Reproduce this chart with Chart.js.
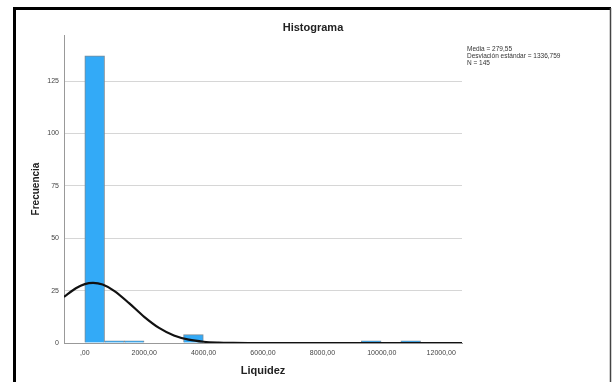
<!DOCTYPE html>
<html>
<head>
<meta charset="utf-8">
<script src="https://cdn.jsdelivr.net/npm/chart.js@4"></script>
<style>
  html, body { margin: 0; padding: 0; background: #fff; }
  #wrap { position: relative; width: 612px; height: 382px; }
</style>
</head>
<body>
<div id="wrap"><canvas id="myChart" width="612" height="382"></canvas></div>
<script>
// histogram bins (lower edge of each bin) and their counts
const binStarts = [0, 665, 1330, 1995, 2660, 3325, 3990, 4655, 5320, 5985, 6650, 7315, 7980, 8645, 9310, 9975, 10640, 11305, 11970];
const binWidth = 665;
const counts = [137, 1, 1, 0, 0, 4, 0, 0, 0, 0, 0, 0, 0, 0, 1, 0, 1, 0, 0];

// normal curve
const curveX = [-700, -300, 0, 280, 600, 1000, 1500, 2000, 2500, 3000, 3500, 4000, 4500, 5000, 5500, 6500, 8000, 10000, 12700];
const curveY = [22.0, 26.1, 28.1, 28.7, 27.9, 24.8, 18.9, 12.5, 7.2, 3.6, 1.6, 0.6, 0.2, 0.06, 0.01, 0, 0, 0, 0];

const xTicks = [0, 2000, 4000, 6000, 8000, 10000, 12000];
const xTickLabels = [',00', '2000,00', '4000,00', '6000,00', '8000,00', '10000,00', '12000,00'];
const yTicks = [0, 25, 50, 75, 100, 125];

const statsLines = ['Media = 279,55', 'Desviación estándar = 1336,759', 'N = 145'];

const decorations = {
  id: 'decorations',
  afterDraw(chart) {
    const ctx = chart.ctx;
    ctx.save();
    // outer frame
    ctx.strokeStyle = '#000';
    ctx.lineWidth = 3;
    ctx.beginPath();
    ctx.moveTo(14.5, 390);
    ctx.lineTo(14.5, 8.5);
    ctx.lineTo(611, 8.5);
    ctx.stroke();
    ctx.strokeStyle = '#444';
    ctx.lineWidth = 1.5;
    ctx.beginPath();
    ctx.moveTo(610.5, 8);
    ctx.lineTo(610.5, 390);
    ctx.stroke();

    // title
    ctx.fillStyle = '#222';
    ctx.font = 'bold 11px "Liberation Sans", Arial, sans-serif';
    ctx.textAlign = 'center';
    ctx.textBaseline = 'middle';
    ctx.fillText('Histograma', 313, 28);

    // stats box
    ctx.font = '6.5px "Liberation Sans", Arial, sans-serif';
    ctx.textAlign = 'left';
    ctx.fillStyle = '#333';
    statsLines.forEach((s, i) => ctx.fillText(s, 467, 49 + i * 7.2));
    ctx.restore();
  }
};

const ctx = document.getElementById('myChart').getContext('2d');
const myChart = new Chart(ctx, {
  data: {
    datasets: [
      {
        type: 'line',
        data: curveX.map((x, i) => ({ x: x, y: curveY[i] })),
        borderColor: '#111',
        borderWidth: 2.2,
        pointRadius: 0,
        tension: 0.4,
        cubicInterpolationMode: 'monotone',
        fill: false,
        order: 0
      },
      {
        type: 'bar',
        data: binStarts.map((b, i) => ({ x: b + binWidth / 2, y: counts[i] })),
        backgroundColor: '#33aaf7',
        borderColor: '#7a8a96',
        borderWidth: 1,
        barPercentage: 1,
        categoryPercentage: 1,
        grouped: false,
        order: 1
      }
    ]
  },
  options: {
    responsive: false,
    animation: false,
    layout: { padding: { left: 26, right: 150, top: 35, bottom: 0 } },
    plugins: {
      legend: { display: false },
      tooltip: { enabled: false },
      title: { display: false }
    },
    scales: {
      x: {
        type: 'linear',
        offset: false,
        min: -700,
        max: 12700,
        afterBuildTicks: (scale) => { scale.ticks = xTicks.map(v => ({ value: v })); },
        afterFit: (scale) => { scale.height = 39; },
        ticks: {
          autoSkip: false,
          maxRotation: 0,
          padding: 6,
          color: '#444',
          font: { size: 7, family: '"Liberation Sans", Arial, sans-serif' },
          callback: (v) => xTickLabels[xTicks.indexOf(v)]
        },
        grid: { display: false, drawTicks: false },
        border: { color: '#999', width: 1 },
        title: {
          display: true,
          text: 'Liquidez',
          color: '#222',
          font: { size: 11, weight: 'bold', family: '"Liberation Sans", Arial, sans-serif' },
          padding: { top: 9 }
        }
      },
      y: {
        min: 0,
        max: 147,
        afterBuildTicks: (scale) => { scale.ticks = yTicks.map(v => ({ value: v })); },
        afterFit: (scale) => { scale.width = 38; },
        ticks: {
          padding: 5,
          color: '#444',
          font: { size: 7, family: '"Liberation Sans", Arial, sans-serif' }
        },
        grid: { color: '#d6d6d6', lineWidth: 1, drawTicks: false },
        border: { color: '#999', width: 1 },
        title: {
          display: true,
          text: 'Frecuencia',
          color: '#222',
          font: { size: 10, weight: 'bold', family: '"Liberation Sans", Arial, sans-serif' },
          padding: { bottom: 0 }
        }
      }
    }
  },
  plugins: [decorations]
});
</script>
</body>
</html>
